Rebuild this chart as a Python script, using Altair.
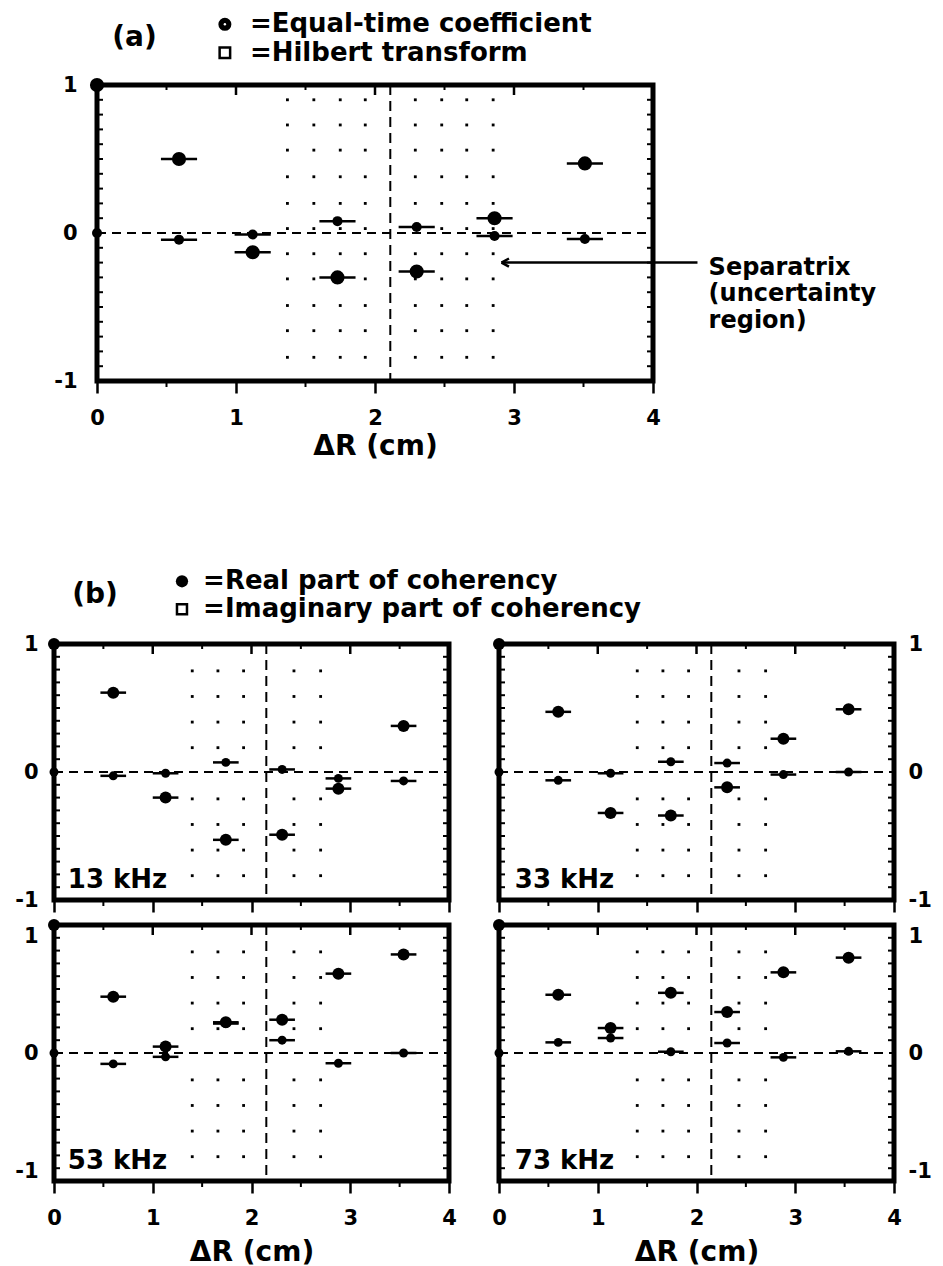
import altair as alt
import pandas as pd

FONT = "DejaVu Sans"

# ---------------- data ----------------
xs_a   = [0.00, 0.59, 1.12, 1.73, 2.30, 2.86, 3.51]
real_a = [1.00, 0.50, -0.13, -0.30, -0.26, 0.10, 0.47]
imag_a = [0.00, -0.045, -0.01, 0.08, 0.04, -0.02, -0.04]

xs_b    = [0.00, 0.60, 1.13, 1.74, 2.31, 2.88, 3.54]
real_13 = [1.00, 0.62, -0.20, -0.53, -0.49, -0.13, 0.36]
imag_13 = [0.00, -0.03, -0.01, 0.075, 0.02, -0.05, -0.07]
real_33 = [1.00, 0.47, -0.32, -0.34, -0.12, 0.26, 0.49]
imag_33 = [0.00, -0.065, -0.01, 0.08, 0.07, -0.02, 0.00]
real_53 = [1.00, 0.44, 0.05, 0.24, 0.26, 0.62, 0.77]
imag_53 = [0.00, -0.085, -0.03, 0.23, 0.10, -0.08, 0.00]
real_73 = [1.00, 0.455, 0.195, 0.47, 0.32, 0.63, 0.745]
imag_73 = [0.00, 0.083, 0.117, 0.01, 0.078, -0.034, 0.013]
x_err   = [0.00, 0.13, 0.13, 0.13, 0.13, 0.13, 0.13]

# separatrix position and dotted uncertainty region
sep_a = 2.11
sep_b = 2.15
grid_x_a = [1.37, 1.56, 1.75, 1.93, 2.29, 2.48, 2.66, 2.85]
grid_y_a = [0.90, 0.73, 0.56, 0.38, 0.20, 0.03, -0.14, -0.31, -0.49, -0.66, -0.84]
grid_x_b = [1.40, 1.66, 1.92, 2.43, 2.70]
grid_y_b = [0.79, 0.59, 0.39, 0.19, -0.21, -0.41, -0.61, -0.81]

# axis ticks / labels
x_major = [0, 1, 2, 3, 4]
x_inner = [1, 2, 3]
x_half = [0.5, 1.5, 2.5, 3.5]
y_major = [-1, 0, 1]
y_minor = [-0.9, -0.8, -0.7, -0.6, -0.5, -0.4, -0.3, -0.2, -0.1,
           0.1, 0.2, 0.3, 0.4, 0.5, 0.6, 0.7, 0.8, 0.9]

x_title = "ΔR (cm)"
legend_a = ["=Equal-time coefficient", "=Hilbert transform"]
legend_b = ["=Real part of coherency", "=Imaginary part of coherency"]
freq_labels = ["13 kHz", "33 kHz", "53 kHz", "73 kHz"]
sep_text = ["Separatrix", "(uncertainty", "region)"]

Y_LABEL_EXPR = "datum.value < 0 ? '-1' : (datum.value > 0 ? '1' : '0')"


def panel(xs, re, im, *, w, h, sep, gx, gy, re_size, im_size,
          y_orient, x_labels, y_flush, y_pad, extra, title_pad=4):
    xsc = alt.Scale(domain=[0, 4], nice=False, zero=False)
    ysc = alt.Scale(domain=[-1, 1], nice=False, zero=False)
    xkw = dict(values=x_major, format="d", ticks=True, tickSize=12, tickWidth=2.5,
               tickColor="black", domain=False, grid=False, labelOverlap=False,
               labelFlush=False, labels=x_labels, labelPadding=14)
    if x_labels:
        xax = alt.Axis(title=x_title, titlePadding=title_pad, **xkw)
    else:
        xax = alt.Axis(title=None, **xkw)
    yax = alt.Axis(values=y_major, orient=y_orient, ticks=False,
                   domain=False, grid=False, labelFlush=y_flush, labelPadding=y_pad,
                   labelOverlap=False, labelExpr=Y_LABEL_EXPR, title=None)

    def X(f):
        return alt.X(f, type="quantitative", scale=xsc, axis=xax)

    def Y(f):
        return alt.Y(f, type="quantitative", scale=ysc, axis=yax)

    df = pd.DataFrame({"x": xs, "re": re, "im": im, "err": x_err})
    df["lo"] = df["x"] - df["err"]
    df["hi"] = df["x"] + df["err"]

    layers = []
    layers.append(alt.Chart(pd.DataFrame({"z": [0.0]})).mark_rule(
        color="black", strokeWidth=2, strokeDash=[9, 6]).encode(
        y=Y("z"), x=alt.value(0), x2=alt.value(w)))
    layers.append(alt.Chart(pd.DataFrame({"s": [sep]})).mark_rule(
        color="black", strokeWidth=2, strokeDash=[10, 6]).encode(
        x=X("s"), y=alt.value(0), y2=alt.value(h)))
    gdf = pd.DataFrame([(a, b) for a in gx for b in gy], columns=["gx", "gy"])
    layers.append(alt.Chart(gdf).mark_square(size=8, color="black", opacity=1).encode(
        x=X("gx"), y=Y("gy")))
    # frame ticks
    ym = pd.DataFrame({"t": y_minor})
    layers.append(alt.Chart(ym).mark_rule(color="black", strokeWidth=2).encode(
        y=Y("t"), x=alt.value(0), x2=alt.value(6)))
    layers.append(alt.Chart(ym).mark_rule(color="black", strokeWidth=2).encode(
        y=Y("t"), x=alt.value(w - 6), x2=alt.value(w)))
    xh = pd.DataFrame({"t": x_half})
    xi = pd.DataFrame({"t": x_inner})
    layers.append(alt.Chart(xh).mark_rule(color="black", strokeWidth=2).encode(
        x=X("t"), y=alt.value(0), y2=alt.value(5)))
    layers.append(alt.Chart(xi).mark_rule(color="black", strokeWidth=2.5).encode(
        x=X("t"), y=alt.value(0), y2=alt.value(10)))
    layers.append(alt.Chart(xh).mark_rule(color="black", strokeWidth=2).encode(
        x=X("t"), y=alt.value(h), y2=alt.value(h + 6)))
    # error bars
    base = alt.Chart(df)
    layers.append(base.mark_rule(color="black", strokeWidth=2.5).encode(
        x=X("lo"), x2="hi", y=Y("im")))
    layers.append(base.mark_rule(color="black", strokeWidth=2.5).encode(
        x=X("lo"), x2="hi", y=Y("re")))
    # points
    layers.append(base.mark_circle(size=im_size, color="black", opacity=1).encode(
        x=X("x"), y=Y("im")))
    layers.append(base.mark_circle(size=re_size, color="black", opacity=1).encode(
        x=X("x"), y=Y("re")))
    layers.extend(extra(X, Y))
    return alt.layer(*layers).properties(width=w, height=h)


def text_layer(X, Y, xs, ys, texts, size, align="left"):
    d = pd.DataFrame({"tx": xs, "ty": ys, "txt": texts})
    return alt.Chart(d).mark_text(align=align, baseline="middle", font=FONT,
                                  fontWeight="bold", fontSize=size,
                                  color="black").encode(
        x=X("tx"), y=Y("ty"), text="txt:N")


def extra_a(X, Y):
    out = []
    out.append(text_layer(X, Y, [0.27], [1.32], ["(a)"], 28, "center"))
    out.append(text_layer(X, Y, [1.10, 1.10], [1.41, 1.218], legend_a, 26))
    out.append(alt.Chart(pd.DataFrame({"tx": [0.92], "ty": [1.41]})).mark_circle(
        size=170, color="black", opacity=1).encode(x=X("tx"), y=Y("ty")))
    out.append(alt.Chart(pd.DataFrame({"tx": [0.92], "ty": [1.41]})).mark_circle(
        size=6, color="white", opacity=1).encode(x=X("tx"), y=Y("ty")))
    out.append(alt.Chart(pd.DataFrame({"tx": [0.92], "ty": [1.218]})).mark_point(
        shape="square", size=110, filled=False, color="black", strokeWidth=2.5,
        opacity=1).encode(x=X("tx"), y=Y("ty")))
    # separatrix arrow + text
    arr = pd.DataFrame({"a1": [2.91], "a2": [4.32], "ay": [-0.2]})
    out.append(alt.Chart(arr).mark_rule(color="black", strokeWidth=2.5).encode(
        x=X("a1"), x2="a2", y=Y("ay")))
    out.append(alt.Chart(arr).mark_point(
        shape="M 0 0 L 2 -1.1 M 0 0 L 2 1.1", size=56, filled=False,
        color="black", strokeWidth=2.5, opacity=1).encode(x=X("a1"), y=Y("ay")))
    out.append(text_layer(X, Y, [4.40, 4.40, 4.40], [-0.235, -0.415, -0.595], sep_text, 24))
    return out


def extra_b13(X, Y):
    out = []
    out.append(text_layer(X, Y, [0.415], [1.381], ["(b)"], 28, "center"))
    out.append(text_layer(X, Y, [1.51, 1.51], [1.49, 1.272], legend_b, 26))
    out.append(alt.Chart(pd.DataFrame({"tx": [1.296], "ty": [1.49]})).mark_circle(
        size=150, color="black", opacity=1).encode(x=X("tx"), y=Y("ty")))
    out.append(alt.Chart(pd.DataFrame({"tx": [1.296], "ty": [1.272]})).mark_point(
        shape="square", size=100, filled=False, color="black", strokeWidth=2.5,
        opacity=1).encode(x=X("tx"), y=Y("ty")))
    out.append(text_layer(X, Y, [0.14], [-0.845], [freq_labels[0]], 26))
    return out


def freq_extra(label, fx, fy):
    def f(X, Y):
        return [text_layer(X, Y, [fx], [fy], [label], 26)]
    return f


WA, HA = 556, 296
WB, HB = 395, 256

pa = panel(xs_a, real_a, imag_a, w=WA, h=HA, sep=sep_a, gx=grid_x_a, gy=grid_y_a,
           re_size=200, im_size=100, y_orient="left", x_labels=True,
           y_flush=False, y_pad=20, extra=extra_a, title_pad=4)
p13 = panel(xs_b, real_13, imag_13, w=WB, h=HB, sep=sep_b, gx=grid_x_b, gy=grid_y_b,
            re_size=144, im_size=80, y_orient="left", x_labels=False,
            y_flush=False, y_pad=16, extra=extra_b13)
p33 = panel(xs_b, real_33, imag_33, w=WB, h=HB, sep=sep_b, gx=grid_x_b, gy=grid_y_b,
            re_size=144, im_size=80, y_orient="right", x_labels=False,
            y_flush=False, y_pad=14, extra=freq_extra(freq_labels[1], 0.16, -0.845))
p53 = panel(xs_b, real_53, imag_53, w=WB, h=HB, sep=sep_b, gx=grid_x_b, gy=grid_y_b,
            re_size=144, im_size=80, y_orient="left", x_labels=True,
            y_flush=True, y_pad=16, extra=freq_extra(freq_labels[2], 0.14, -0.84),
            title_pad=10)
p73 = panel(xs_b, real_73, imag_73, w=WB, h=HB, sep=sep_b, gx=grid_x_b, gy=grid_y_b,
            re_size=144, im_size=80, y_orient="right", x_labels=True,
            y_flush=True, y_pad=14, extra=freq_extra(freq_labels[3], 0.16, -0.84),
            title_pad=10)


def spacer(w, h):
    return alt.Chart(pd.DataFrame({"v": [0]})).mark_point(opacity=0).encode(
        x=alt.value(0), y=alt.value(0)).properties(
        width=w, height=h, view=alt.ViewBackground(stroke="transparent", strokeWidth=0))


SPW = 43
row_a = alt.hconcat(spacer(SPW, 2), pa, spacing=0, bounds="flush")
row_b = alt.hconcat(p13, p33, spacing=50, bounds="flush")
row_c = alt.hconcat(p53, p73, spacing=50, bounds="flush")
inner = alt.vconcat(row_b, row_c, spacing=0)

chart = alt.vconcat(row_a, inner, spacing=102).properties(
    padding={"left": 4, "top": 0, "right": 0, "bottom": 0},
    background="white",
).configure_view(
    stroke="black", strokeWidth=5
).configure_axis(
    labelFont=FONT, labelFontSize=21, labelFontWeight="bold", labelColor="black",
    titleFont=FONT, titleFontSize=28, titleFontWeight="bold", titleColor="black"
)

chart.save("out.html", embed_options={"renderer": "svg", "actions": False})
